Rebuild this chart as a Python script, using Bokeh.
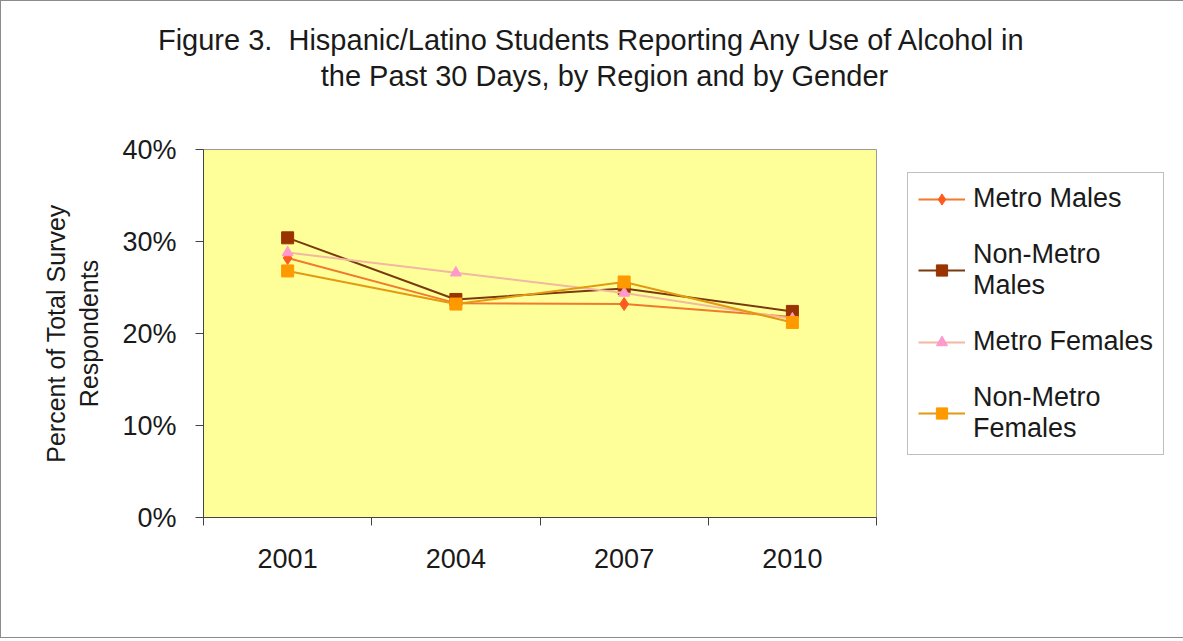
from bokeh.plotting import figure
from bokeh.models import (FactorRange, Range1d, LinearAxis, CategoricalAxis, FixedTicker,
                          NumeralTickFormatter, Legend, LegendItem)
from bokeh.embed import file_html
from bokeh.resources import INLINE

# ---------------- data ----------------
years = ["2001", "2004", "2007", "2010"]
metro_males = [0.282, 0.233, 0.232, 0.218]
nonmetro_males = [0.304, 0.237, 0.249, 0.224]
metro_females = [0.288, 0.266, 0.244, 0.216]
nonmetro_females = [0.268, 0.232, 0.256, 0.212]
series_labels = ["Metro Males", "Non-Metro\nMales", "Metro Females", "Non-Metro\nFemales"]
y_ticks = [0.0, 0.1, 0.2, 0.3, 0.4]
title_line1 = "Figure 3.\u00a0 Hispanic/Latino Students Reporting Any Use of Alcohol in"
title_line2 = "the Past 30 Days, by Region and by Gender"
y_label = "Percent of Total Survey\nRespondents"

FONT = "Liberation Sans"
TXT = "#1a1a1a"
NBSP = "\u00a0"

p = figure(x_range=FactorRange(factors=years, range_padding=0),
           y_range=Range1d(0, 0.4),
           frame_width=673, frame_height=368,
           min_border_left=202, min_border_right=290,
           min_border_top=148, min_border_bottom=120,
           x_axis_location=None, y_axis_location=None,
           output_backend="svg", toolbar_location=None,
           background_fill_color="#FFFF99", border_fill_color="white",
           styles={"border": "1px solid #8c8c8c"})
p.grid.visible = False
p.outline_line_color = "#9a9a9a"
p.outline_line_width = 1

# title: label of a bare axis above the plot; leading no-break spaces shift the
# centred lines to the middle of the whole chart area (as in the original)
title_text = NBSP * 13 + title_line1 + "\n" + NBSP * 16 + title_line2
title_axis = LinearAxis(ticker=FixedTicker(ticks=[]), axis_label=title_text)
title_axis.axis_line_color = None
title_axis.major_tick_out = 0
title_axis.major_tick_in = 0
title_axis.major_tick_line_color = None
title_axis.minor_tick_line_color = None
title_axis.major_label_standoff = 0
title_axis.axis_label_standoff = 58
title_axis.axis_label_text_font = FONT
title_axis.axis_label_text_font_size = "29px"
title_axis.axis_label_text_font_style = "normal"
title_axis.axis_label_text_color = TXT
title_axis.axis_label_text_line_height = 1.1
p.add_layout(title_axis, "above")

# y axis
yaxis = LinearAxis(ticker=FixedTicker(ticks=y_ticks),
                   formatter=NumeralTickFormatter(format="0%"),
                   axis_label=y_label)
yaxis.axis_line_color = "#444444"
yaxis.major_tick_line_color = "#444444"
yaxis.major_tick_out = 8
yaxis.major_tick_in = 0
yaxis.minor_tick_line_color = None
yaxis.major_label_text_font = FONT
yaxis.major_label_text_font_size = "27px"
yaxis.major_label_text_color = TXT
yaxis.major_label_standoff = 19
yaxis.axis_label_text_font = FONT
yaxis.axis_label_text_font_size = "25px"
yaxis.axis_label_text_font_style = "normal"
yaxis.axis_label_text_color = TXT
yaxis.axis_label_standoff = 16
p.add_layout(yaxis, "left")

# x axis: tick marks on the boundaries between categories (no labels)
xticks_axis = LinearAxis(ticker=FixedTicker(ticks=list(range(len(years) + 1))))
xticks_axis.axis_line_color = "#444444"
xticks_axis.major_tick_line_color = "#444444"
xticks_axis.major_tick_out = 8
xticks_axis.major_tick_in = 0
xticks_axis.minor_tick_line_color = None
xticks_axis.major_label_text_font_size = "1px"
xticks_axis.major_label_text_color = None
xticks_axis.major_label_standoff = 0
p.add_layout(xticks_axis, "below")

# x axis: category labels
xaxis = CategoricalAxis()
xaxis.axis_line_color = None
xaxis.major_tick_line_color = None
xaxis.minor_tick_line_color = None
xaxis.major_label_text_font = FONT
xaxis.major_label_text_font_size = "27px"
xaxis.major_label_text_color = TXT
xaxis.major_label_standoff = 17
p.add_layout(xaxis, "below")

# series
specs = [
    (metro_males, "#F07A2E", "#FF5A1E", "diamond", 13),
    (nonmetro_males, "#7A3A10", "#993300", "square", 12),
    (metro_females, "#F2B8A2", "#FF99CC", "triangle", 11),
    (nonmetro_females, "#E39A12", "#FF9900", "square", 12),
]
items = []
for (vals, lc, mc, mk, ms), lab in zip(specs, series_labels):
    lr = p.line(years, vals, line_color=lc, line_width=2)
    sr = p.scatter(years, vals, marker=mk, size=ms, fill_color=mc, line_color=mc)
    items.append(LegendItem(label=lab, renderers=[lr, sr]))

legend = Legend(items=items, location=(31, 62))
legend.label_text_font = FONT
legend.label_text_font_size = "27px"
legend.label_text_color = TXT
legend.glyph_width = 47
legend.glyph_height = 28
legend.label_standoff = 8
legend.padding = 10
legend.spacing = 25
legend.border_line_color = "#7f7f7f"
legend.border_line_width = 1
legend.background_fill_color = "white"
legend.background_fill_alpha = 1
p.add_layout(legend, "right")

open("out.html", "w").write(file_html(p, INLINE))
